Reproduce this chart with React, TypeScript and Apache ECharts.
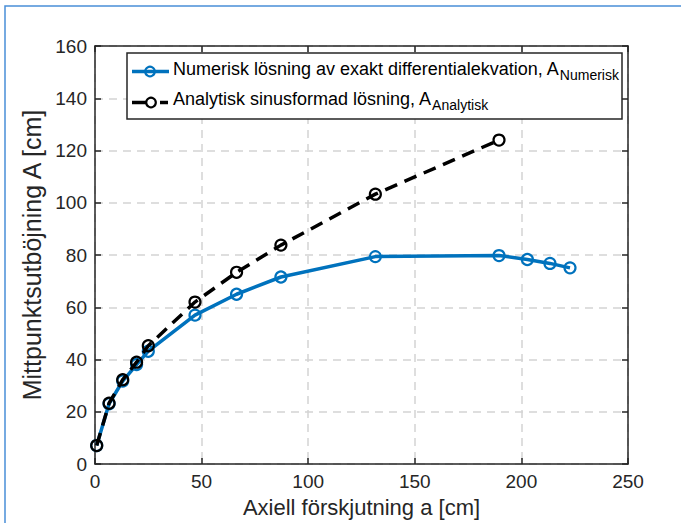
import React, { useEffect, useRef } from "react";
import * as echarts from "echarts";

const axialA = [0.8, 6.6, 13, 19.5, 25, 46.9, 66.4, 87.2, 131.5, 189.5, 202.8, 213.4, 222.8];
const numericA = [7.1, 23.1, 31.8, 38.1, 43.2, 57.0, 65.0, 71.6, 79.4, 79.8, 78.3, 76.8, 75.1];
const axialAnalytic = [0.8, 6.6, 13, 19.5, 25, 46.9, 66.4, 87.2, 131.5, 189.5];
const analyticA = [7.1, 23.3, 32.3, 39.0, 45.3, 62.0, 73.4, 83.8, 103.3, 124.0];

const seriesNames = ["Numerisk lösning av exakt differentialekvation, A", "Analytisk sinusformad lösning, A"];
const seriesSubs = ["Numerisk", "Analytisk"];

const BLUE = "#0072BD";
const DARK = "#262626";
const FONT = "Liberation Sans, Arial, Helvetica, sans-serif";

export default function App() {
  const ref = useRef<HTMLDivElement>(null);
  useEffect(() => {
    if (!ref.current) return;
    const chart = echarts.init(ref.current, null, { renderer: "svg" });
    const numData = axialA.map((a, i) => [a, numericA[i]]);
    const anaData = axialAnalytic.map((a, i) => [a, analyticA[i]]);
    const axisCommon = {
      type: "value" as const,
      axisLine: { show: true, onZero: false, lineStyle: { color: DARK, width: 1.5 } },
      axisTick: { show: true, inside: true, length: 6, lineStyle: { color: DARK, width: 1.5 } },
    };
    const splitLine = { show: true, lineStyle: { color: "#d4d4d4", type: [8, 6] as any, width: 1.5 } };
    const labelStyle = { color: DARK, fontSize: 19, fontFamily: FONT };
    const legendLineY = [71.5, 102.5];
    const legendTextY = [55, 85];
    chart.setOption({
      animation: false,
      backgroundColor: "#ffffff",
      grid: { left: 95, top: 46, width: 533, height: 421, containLabel: false },
      xAxis: [
        {
          ...axisCommon,
          min: 0, max: 250, interval: 50, position: "bottom",
          axisLabel: { ...labelStyle, margin: 8 },
          splitLine,
          name: "Axiell förskjutning a [cm]",
          nameLocation: "middle",
          nameGap: 25,
          nameTextStyle: { color: DARK, fontSize: 22, fontFamily: FONT },
        },
        {
          ...axisCommon,
          min: 0, max: 250, interval: 50, position: "top",
          axisLabel: { show: false }, splitLine: { show: false },
        },
      ],
      yAxis: [
        {
          ...axisCommon,
          min: 0, max: 160, interval: 20, position: "left",
          axisLabel: { ...labelStyle, margin: 8 },
          splitLine,
          name: "Mittpunktsutböjning A [cm]",
          nameLocation: "middle",
          nameGap: 41,
          nameTextStyle: { color: DARK, fontSize: 25, fontFamily: FONT },
        },
        {
          ...axisCommon,
          min: 0, max: 160, interval: 20, position: "right",
          axisLabel: { show: false }, splitLine: { show: false },
        },
      ],
      series: [
        {
          name: seriesNames[0],
          type: "line",
          data: numData,
          symbol: "circle",
          symbolSize: 11,
          lineStyle: { color: BLUE, width: 3.5 },
          itemStyle: { color: "rgba(255,255,255,0)", borderColor: BLUE, borderWidth: 2.2 },
          z: 2,
        },
        {
          name: seriesNames[1],
          type: "line",
          data: anaData,
          symbol: "circle",
          symbolSize: 11,
          lineStyle: { color: "#000000", width: 3.5, type: [13, 8] },
          itemStyle: { color: "rgba(255,255,255,0)", borderColor: "#000000", borderWidth: 2.2 },
          z: 3,
        },
      ],
      graphic: [
        {
          type: "rect",
          shape: { x: 5, y: 6, width: 800, height: 700 },
          style: { fill: "none", stroke: "#4a8fd8", lineWidth: 1.5 },
          silent: true,
        },
        {
          type: "rect",
          shape: { x: 127, y: 53, width: 495, height: 66 },
          style: { fill: "#ffffff", stroke: DARK, lineWidth: 1.5 },
          z: 10,
        },
        {
          type: "line",
          shape: { x1: 132, y1: legendLineY[0], x2: 169, y2: legendLineY[0] },
          style: { stroke: BLUE, lineWidth: 3.5 },
          z: 11,
        },
        {
          type: "circle",
          shape: { cx: 150, cy: legendLineY[0], r: 4.8 },
          style: { fill: "none", stroke: BLUE, lineWidth: 2.2 },
          z: 12,
        },
        {
          type: "line",
          shape: { x1: 132, y1: legendLineY[1], x2: 146, y2: legendLineY[1] },
          style: { stroke: "#000", lineWidth: 3.5 },
          z: 11,
        },
        {
          type: "line",
          shape: { x1: 160, y1: legendLineY[1], x2: 168, y2: legendLineY[1] },
          style: { stroke: "#000", lineWidth: 3.5 },
          z: 11,
        },
        {
          type: "circle",
          shape: { cx: 151, cy: legendLineY[1], r: 4.8 },
          style: { fill: "none", stroke: "#000", lineWidth: 2.2 },
          z: 12,
        },
        ...seriesNames.map((n, i) => ({
          type: "text",
          x: 173,
          y: legendTextY[i],
          z: 12,
          style: {
            text: n + "{sub|" + seriesSubs[i] + "}",
            fill: "#000",
            fontSize: 18,
            fontFamily: FONT,
            rich: {
              sub: { fontSize: 14, fontFamily: FONT, fill: "#000", padding: [13, 0, 0, 0] },
            },
          },
        })),
      ],
    });
    return () => chart.dispose();
  }, []);
  return (
    <div
      ref={ref}
      style={{ position: "fixed", left: 0, top: 0, width: 681, height: 523, background: "#fff" }}
    />
  );
}
